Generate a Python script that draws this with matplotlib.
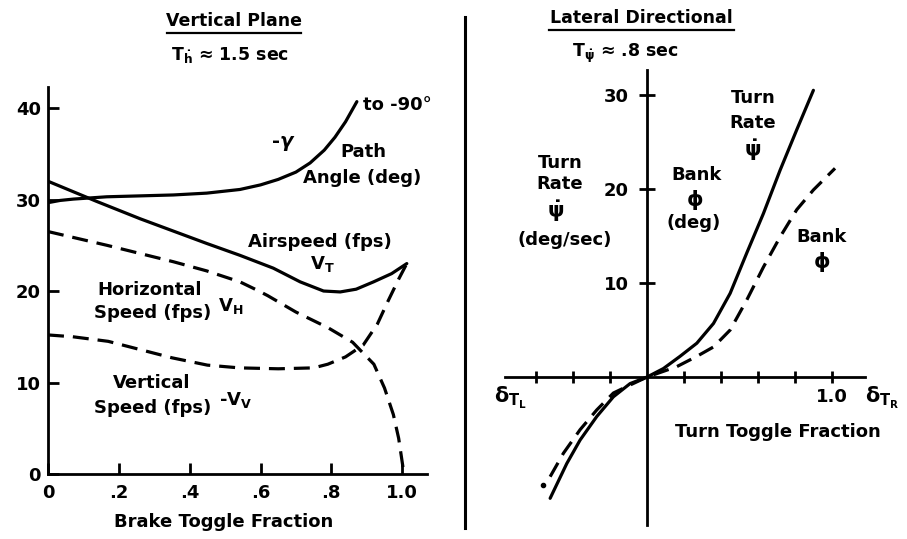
import matplotlib
matplotlib.use("Agg")
import matplotlib.pyplot as plt
from matplotlib.lines import Line2D

plt.rcParams["font.family"] = ["DejaVu Sans"]
plt.rcParams["font.weight"] = "bold"
plt.rcParams["mathtext.fontset"] = "dejavusans"
plt.rcParams["mathtext.default"] = "bf"

# ---- Vertical plane: brake toggle fraction ----
gamma_x = [0.0, 0.006, 0.034, 0.072, 0.166, 0.354, 0.448, 0.542, 0.60, 0.65, 0.70,
           0.74, 0.78, 0.81, 0.84, 0.872]
gamma_y = [29.7, 29.7, 29.9, 30.05, 30.3, 30.5, 30.7, 31.1, 31.6, 32.2, 33.0,
           34.0, 35.4, 36.8, 38.5, 40.7]

vt_x = [0.0, 0.137, 0.26, 0.448, 0.542, 0.636, 0.712, 0.778, 0.825, 0.87, 0.919, 0.97, 1.013]
vt_y = [32.0, 29.8, 27.9, 25.2, 23.9, 22.5, 21.0, 20.0, 19.9, 20.2, 21.0, 21.9, 23.0]

vh_x = [0.0, 0.166, 0.354, 0.448, 0.542, 0.59, 0.62, 0.70, 0.79, 0.86, 0.92, 0.95, 0.975,
        0.99, 1.0, 1.005]
vh_y = [26.5, 25.0, 23.2, 22.2, 21.0, 20.1, 19.5, 17.7, 16.0, 14.4, 12.0, 9.4, 6.5,
        3.9, 1.3, 0.0]

vv_x = [0.0, 0.07, 0.17, 0.26, 0.35, 0.45, 0.54, 0.65, 0.75, 0.79, 0.84, 0.89, 0.93,
        0.96, 0.99, 1.013]
vv_y = [15.2, 15.0, 14.5, 13.6, 12.7, 11.9, 11.6, 11.5, 11.6, 12.0, 12.8, 14.1, 16.4,
        18.9, 21.3, 23.0]

brake_ticks = [0.0, 0.2, 0.4, 0.6, 0.8, 1.0]
brake_labels = ["0", ".2", ".4", ".6", ".8", "1.0"]
left_yticks = [0, 10, 20, 30, 40]

# ---- Lateral directional: turn toggle fraction ----
turn_x = [-0.524, -0.434, -0.362, -0.272, -0.182, -0.092, 0.0, 0.088, 0.178, 0.269,
          0.359, 0.449, 0.539, 0.629, 0.719, 0.809, 0.899]
turn_y = [-12.9, -9.2, -6.7, -4.2, -2.1, -0.7, 0.0, 0.9, 2.2, 3.6,
          5.7, 8.9, 13.2, 17.4, 22.0, 26.3, 30.5]

bank_x = [-0.524, -0.452, -0.362, -0.272, -0.182, -0.092, 0.0, 0.16, 0.269, 0.359,
          0.449, 0.539, 0.629, 0.719, 0.809, 0.899, 1.016]
bank_y = [-10.6, -8.1, -5.6, -3.5, -1.7, -0.85, 0.0, 1.1, 2.2, 3.2,
          5.0, 8.2, 11.7, 14.9, 17.8, 19.9, 22.2]
bank_dot_x = [-0.56]
bank_dot_y = [-11.5]

turn_xticks = [-0.6, -0.4, -0.2, 0.2, 0.4, 0.6, 0.8, 1.0]
turn_xlabels = ["", "", "", "", "", "", "", "1.0"]
right_yticks = [10, 20, 30]

W, H = 907, 539
fig = plt.figure(figsize=(W / 100, H / 100), dpi=100)


def fx(x):
    return x / W


def fy(y):
    return 1 - y / H


def ftext(x, y, s, size=13, **kw):
    fig.text(fx(x), fy(y), s, ha="center", va="center", fontsize=size,
             fontweight="bold", **kw)


LW = 2.3
DASH = (5.0, 2.8)
FS = 13

# Left panel
axL = fig.add_axes([fx(48), fy(474), (427 - 48) / W, (474 - 87) / H])
axL.set_xlim(0, 1.07)
axL.set_ylim(0, 42.3)
for s in ("top", "right"):
    axL.spines[s].set_visible(False)
for s in ("left", "bottom"):
    axL.spines[s].set_linewidth(2.0)
axL.plot(gamma_x, gamma_y, color="black", lw=LW, solid_capstyle="round",
         solid_joinstyle="round")
axL.plot(vt_x, vt_y, color="black", lw=LW, solid_capstyle="round",
         solid_joinstyle="round")
axL.plot(vh_x, vh_y, color="black", lw=LW, dashes=DASH)
axL.plot(vv_x, vv_y, color="black", lw=LW, dashes=DASH)
axL.set_xticks(brake_ticks)
axL.set_xticklabels(brake_labels)
axL.set_yticks(left_yticks)
axL.tick_params(direction="in", length=8, width=2.0, labelsize=FS, pad=5)
axL.tick_params(axis="x", pad=7)
for lab in axL.get_xticklabels() + axL.get_yticklabels():
    lab.set_fontweight("bold")

# Right panel
axR = fig.add_axes([fx(505), fy(525), (865 - 505) / W, (525 - 70) / H])
axR.set_xlim(-0.768, 1.178)
axR.set_ylim(-15.74, 32.66)
axR.spines["left"].set_position(("data", 0))
axR.spines["bottom"].set_position(("data", 0))
for s in ("top", "right"):
    axR.spines[s].set_visible(False)
for s in ("left", "bottom"):
    axR.spines[s].set_linewidth(2.0)
axR.plot(turn_x, turn_y, color="black", lw=LW, solid_capstyle="round",
         solid_joinstyle="round")
axR.plot(bank_x, bank_y, color="black", lw=LW, dashes=DASH)
axR.plot(bank_dot_x, bank_dot_y, "o", color="black", ms=3)
axR.set_xticks(turn_xticks)
axR.set_xticklabels(turn_xlabels)
axR.set_yticks(right_yticks)
axR.tick_params(direction="inout", width=2.0, labelsize=FS)
axR.tick_params(axis="y", length=12, pad=7)
axR.tick_params(axis="x", length=8, pad=4)
for lab in axR.get_xticklabels() + axR.get_yticklabels():
    lab.set_fontweight("bold")

# Separator between the two panels
fig.add_artist(Line2D([fx(465), fx(465)], [fy(17), fy(528)], color="black", lw=2.2))

# Titles with underlines
ftext(234, 21, "Vertical Plane", size=12.5)
fig.add_artist(Line2D([fx(167), fx(301)], [fy(33), fy(33)], color="black", lw=1.6))
ftext(230, 55, r"T$_{\dot{h}}$ ≈ 1.5 sec", size=12.5)

ftext(641, 18, "Lateral Directional", size=12.5)
fig.add_artist(Line2D([fx(549), fx(734)], [fy(30), fy(30)], color="black", lw=1.6))
ftext(625, 53, r"T$_{\dot{\psi}}$ ≈ .8 sec", size=12.5)

# Left panel annotations
ftext(397, 105, "to -90°")
ftext(283, 143, r"-$\mathit{\gamma}$", size=14)
ftext(363, 152, "Path")
ftext(362, 178, "Angle (deg)")
ftext(320, 242, "Airspeed (fps)")
ftext(322, 264, r"V$_{T}$")
ftext(150, 290, "Horizontal")
ftext(153, 313, "Speed (fps)")
ftext(231, 306, r"V$_{H}$")
ftext(152, 383, "Vertical")
ftext(153, 408, "Speed (fps)")
ftext(236, 400, r"-V$_{V}$")
ftext(224, 522, "Brake Toggle Fraction")

# Right panel annotations
ftext(560, 163, "Turn")
ftext(560, 184, "Rate")
ftext(556, 211, r"$\dot{\psi}$", size=15)
ftext(565, 240, "(deg/sec)")
ftext(697, 175, "Bank")
ftext(695, 200, r"$\phi$", size=15)
ftext(694, 223, "(deg)")
ftext(753, 98, "Turn")
ftext(753, 123, "Rate")
ftext(753, 150, r"$\dot{\psi}$", size=15)
ftext(822, 237, "Bank")
ftext(822, 262, r"$\phi$", size=15)
ftext(510, 398, r"$\delta_{T_L}$", size=15)
ftext(882, 398, r"$\delta_{T_R}$", size=15)
ftext(778, 432, "Turn Toggle Fraction")

fig.savefig("out.png", dpi=100)
